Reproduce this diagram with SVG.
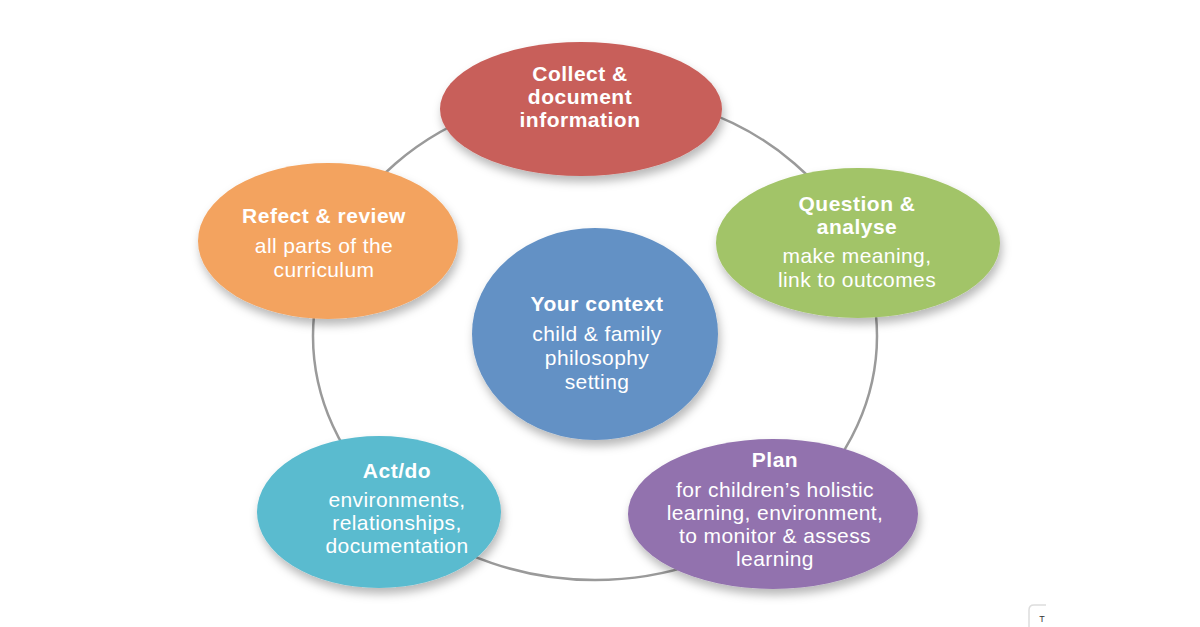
<svg xmlns="http://www.w3.org/2000/svg" width="1200" height="627" viewBox="0 0 1200 627">
  <defs>
    <filter id="sh" x="-20%" y="-20%" width="140%" height="150%">
      <feDropShadow dx="2" dy="6" stdDeviation="5" flood-color="#000" flood-opacity="0.28"/>
    </filter>
  </defs>
  <style>
    .t { font-family: "Liberation Sans", Arial, sans-serif; font-size: 21px; letter-spacing: 0.5px; font-weight: bold; fill: #ffffff; text-anchor: middle; }
    .b { font-family: "Liberation Sans", Arial, sans-serif; font-size: 21px; letter-spacing: 0.4px; fill: #ffffff; text-anchor: middle; }
    .ring { fill: none; stroke: #9a9a9a; stroke-width: 2.5; }
    .node { filter: url(#sh); }
  </style>
  <rect width="1200" height="627" fill="#ffffff"/>
  <g id="connectors">
    <ellipse class="ring" cx="595" cy="336" rx="282" ry="244"/>
  </g>
  <g id="node-collect">
    <ellipse class="node" cx="581" cy="109" rx="141" ry="67" fill="#c85f5a"/>
    <text class="t" x="580" y="81">Collect &amp;</text>
    <text class="t" x="580" y="104">document</text>
    <text class="t" x="580" y="127">information</text>
  </g>
  <g id="node-question">
    <ellipse class="node" cx="858" cy="243" rx="142" ry="75" fill="#a2c468"/>
    <text class="t" x="857" y="211">Question &amp;</text>
    <text class="t" x="857" y="234">analyse</text>
    <text class="b" x="857" y="263">make meaning,</text>
    <text class="b" x="857" y="287">link to outcomes</text>
  </g>
  <g id="node-reflect">
    <ellipse class="node" cx="328" cy="241" rx="130" ry="78" fill="#f3a35f"/>
    <text class="t" x="324" y="223">Refect &amp; review</text>
    <text class="b" x="324" y="253">all parts of the</text>
    <text class="b" x="324" y="277">curriculum</text>
  </g>
  <g id="node-context">
    <ellipse class="node" cx="595" cy="334" rx="123" ry="106" fill="#6391c5"/>
    <text class="t" x="597" y="311">Your context</text>
    <text class="b" x="597" y="341">child &amp; family</text>
    <text class="b" x="597" y="365">philosophy</text>
    <text class="b" x="597" y="389">setting</text>
  </g>
  <g id="node-act">
    <ellipse class="node" cx="379" cy="512" rx="122" ry="76" fill="#5abbcf"/>
    <text class="t" x="397" y="478">Act/do</text>
    <text class="b" x="397" y="507">environments,</text>
    <text class="b" x="397" y="530">relationships,</text>
    <text class="b" x="397" y="553">documentation</text>
  </g>
  <g id="node-plan">
    <ellipse class="node" cx="773" cy="514" rx="145" ry="75" fill="#9272ae"/>
    <text class="t" x="775" y="467">Plan</text>
    <text class="b" x="775" y="497">for children’s holistic</text>
    <text class="b" x="775" y="520">learning, environment,</text>
    <text class="b" x="775" y="543">to monitor &amp; assess</text>
    <text class="b" x="775" y="566">learning</text>
  </g>
  <g id="corner-mark">
    <path d="M1029,627 V610 Q1029,605 1034,605 H1046" fill="none" stroke="#dddddd" stroke-width="1.5"/>
    <text x="1042" y="622" font-family="Liberation Sans, Arial, sans-serif" font-size="9" fill="#333333" text-anchor="middle">T</text>
  </g>
</svg>
